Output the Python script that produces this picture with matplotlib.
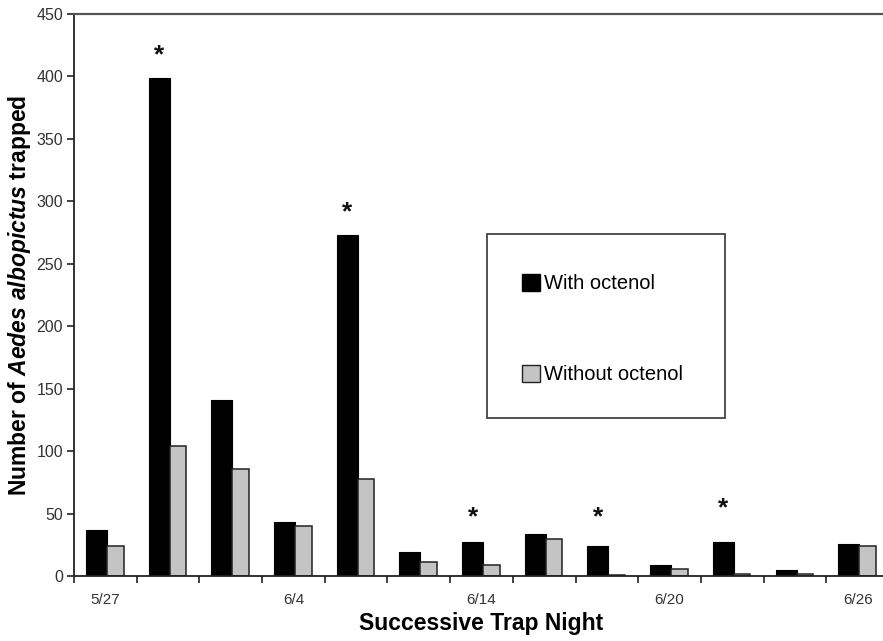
import numpy as np
import matplotlib
matplotlib.use("Agg")
import matplotlib.pyplot as plt
from matplotlib.patches import Rectangle, Patch

plt.rcParams['font.family'] = ['Liberation Sans', 'DejaVu Sans']
plt.rcParams['mathtext.fontset'] = 'custom'
plt.rcParams['mathtext.it'] = 'Liberation Sans:italic:bold'
plt.rcParams['mathtext.rm'] = 'Liberation Sans:bold'

# one entry per trap night
with_octenol = [37, 399, 141, 43, 273, 19, 27, 34, 24, 9, 27, 5, 26]
without_octenol = [24, 104, 86, 40, 78, 11, 9, 30, 1, 6, 2, 2, 24]
tick_pos = [0, 3, 6, 9, 12]
tick_labels = ['5/27', '6/4', '6/14', '6/20', '6/26']
# significant nights: index and height of the asterisk
star_idx = [1, 4, 6, 8, 10]
star_y = [417, 291, 47, 47, 54]

x = np.arange(len(with_octenol))

fig = plt.figure(figsize=(8.83, 6.41), dpi=100)
ax = fig.add_axes([74 / 883, 1 - 576 / 641, 815 / 883, 562 / 641])

ax.bar(x - 0.31, with_octenol, width=0.335, align='edge', color='black',
       edgecolor='black', linewidth=0.8, joinstyle='round')
ax.bar(x + 0.025, without_octenol, width=0.265, align='edge', color='#c4c4c4',
       edgecolor='#222222', linewidth=1.1)

for i, y in zip(star_idx, star_y):
    ax.text(x[i] - 0.14, y, '*', ha='center', va='center', fontsize=19,
            fontweight='bold', color='#111111')

ax.set_xlim(-0.5, 12.5)
ax.set_ylim(0, 450)
ax.set_yticks(np.arange(0, 451, 50))
ax.set_xticks(tick_pos)
ax.set_xticklabels(tick_labels)
ax.set_xticks(np.arange(-0.5, 13, 1), minor=True)
ax.tick_params(axis='x', which='major', length=0, pad=12, labelsize=11, labelcolor='#333333')
ax.tick_params(axis='x', which='minor', length=5, width=1.2, direction='out', color='#222222')
ax.tick_params(axis='y', length=5, width=1.2, direction='out', labelsize=11.5,
               labelcolor='#333333', color='#222222', pad=3)

for s in ['left', 'bottom']:
    ax.spines[s].set_linewidth(1.3)
    ax.spines[s].set_color('#222222')
ax.spines['top'].set_linewidth(1.6)
ax.spines['top'].set_color('#555555')
ax.spines['right'].set_visible(False)

ax.set_xlabel('Successive Trap Night', fontsize=16.5, fontweight='bold', labelpad=4)
ax.set_ylabel(r'Number of $\mathit{Aedes\ albopictus}$ trapped', fontsize=16.5,
              fontweight='bold', labelpad=2)

# legend box
box = Rectangle((487 / 883, 1 - 418 / 641), (725 - 487) / 883, (418 - 234) / 641,
                transform=fig.transFigure, fill=False, edgecolor='#444444', linewidth=1.3)
fig.patches.append(box)
handles = [Patch(facecolor='black', edgecolor='black'),
           Patch(facecolor='#c4c4c4', edgecolor='#222222')]
fig.legend(handles, ['With octenol', 'Without octenol'], loc='upper left',
           bbox_to_anchor=(504 / 883, 1 - 256 / 641), frameon=False, fontsize=14.5,
           labelspacing=3.55, handlelength=0.9, handleheight=0.9, handletextpad=0.2)

fig.savefig('out.png', dpi=100)
